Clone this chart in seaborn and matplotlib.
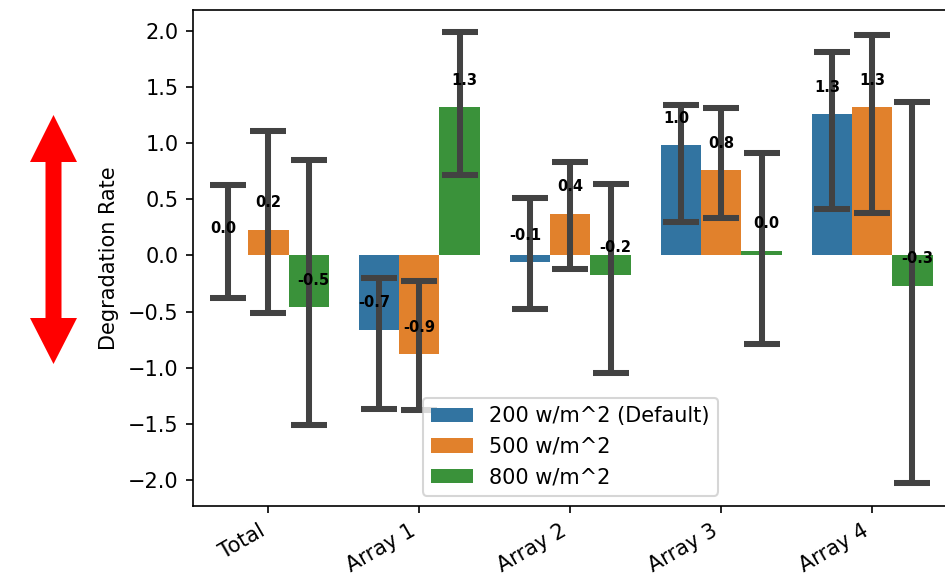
import numpy as np
import pandas as pd
import matplotlib
matplotlib.use("Agg")
import matplotlib.pyplot as plt
from matplotlib.patches import Polygon
from matplotlib.container import BarContainer
import seaborn as sns

# ---- data ----
categories = ["Total", "Array 1", "Array 2", "Array 3", "Array 4"]
series = ["200 w/m^2 (Default)", "500 w/m^2", "800 w/m^2"]

rate_200 = [0.00, -0.66, -0.06, 0.98, 1.26]
rate_500 = [0.23, -0.88, 0.37, 0.76, 1.32]
rate_800 = [-0.46, 1.32, -0.17, 0.04, -0.27]

ci_low_200 = [-0.375, -1.37, -0.48, 0.30, 0.41]
ci_high_200 = [0.63, -0.20, 0.51, 1.34, 1.81]
ci_low_500 = [-0.51, -1.38, -0.12, 0.33, 0.38]
ci_high_500 = [1.11, -0.23, 0.83, 1.31, 1.96]
ci_low_800 = [-1.51, 0.72, -1.05, -0.79, -2.03]
ci_high_800 = [0.85, 1.99, 0.64, 0.91, 1.37]

rates = [rate_200, rate_500, rate_800]
lows = [ci_low_200, ci_low_500, ci_low_800]
highs = [ci_high_200, ci_high_500, ci_high_800]

df = pd.DataFrame({
    "category": categories * 3,
    "setting": [s for s in series for _ in categories],
    "rate": rate_200 + rate_500 + rate_800,
})

W, H, DPI = 945, 577, 150
fig = plt.figure(figsize=(W / DPI, H / DPI), dpi=DPI)

# decorative red double arrow (pixel-space overlay)
ax_arrow = fig.add_axes([0, 0, 1, 1])
ax_arrow.set_xlim(0, W)
ax_arrow.set_ylim(H, 0)
ax_arrow.axis("off")
ax_arrow.patch.set_alpha(0)
cx = 53.5
pts = [(cx, 115), (cx - 23.5, 162), (cx - 8, 162), (cx - 8, 318), (cx - 23.5, 318),
       (cx, 364), (cx + 23.5, 318), (cx + 8, 318), (cx + 8, 162), (cx + 23.5, 162)]
ax_arrow.add_patch(Polygon(pts, closed=True, facecolor="#ff0000", edgecolor="none"))

ax = fig.add_axes([192.9 / W, 71 / H, 754.8 / W, 496 / H])
sns.barplot(data=df, x="category", y="rate", hue="setting", order=categories,
            hue_order=series, errorbar=None, ax=ax)

bar_containers = [c for c in ax.containers if isinstance(c, BarContainer)]
offsets = [-0.033, 0.0, 0.033]
for j, cont in enumerate(bar_containers):
    xs = [p.get_x() + p.get_width() / 2 for p in cont.patches]
    vals = np.array(rates[j])
    lo = vals - np.array(lows[j])
    hi = np.array(highs[j]) - vals
    ax.errorbar(xs, vals, yerr=[lo, hi], fmt="none", ecolor="#424242",
                elinewidth=2.9, capsize=8.6, capthick=2.9, zorder=2.5)
    for x, v in zip(xs, vals):
        ax.text(x + offsets[j], v + 0.24, f"{v:.1f}", ha="center", va="center",
                fontsize=7, fontweight="bold", color="black", zorder=4)

ax.set_ylim(-2.232, 2.186)
ax.set_xlim(-0.5, 4.5)
ax.set_xlabel("")
ax.set_ylabel("Degradation Rate")
plt.setp(ax.get_xticklabels(), rotation=30, ha="right")
sns.move_legend(ax, "lower center", title=None)

fig.savefig("out.png", dpi=DPI)
